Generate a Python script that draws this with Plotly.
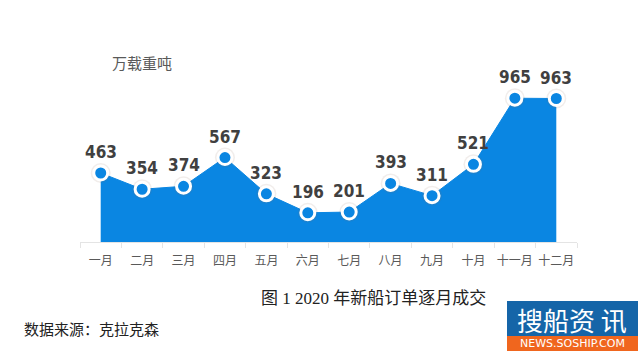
import plotly.graph_objects as go

months = ["一月", "二月", "三月", "四月", "五月", "六月", "七月", "八月", "九月", "十月", "十一月", "十二月"]
orders = [463, 354, 374, 567, 323, 196, 201, 393, 311, 521, 965, 963]
unit_label = "万载重吨"
caption = "图 1 2020 年新船订单逐月成交"
source = "数据来源：克拉克森"

W, H = 640, 354
L, R, T, B = 80, 63, 93, 112
pw, ph = W - L - R, H - T - B

def px(x):
    return (x - L) / pw

def py(y):
    return (H - B - y) / ph

BLUE = "#0A86E2"
CJK = "Noto Sans CJK SC, Noto Sans, sans-serif"

fig = go.Figure()
fig.add_trace(go.Scatter(x=months, y=orders, mode="lines", fill="tozeroy",
                         line=dict(color=BLUE, width=1), fillcolor=BLUE,
                         hoverinfo="skip", showlegend=False))
# faint shadow halo
fig.add_trace(go.Scatter(x=months, y=orders, mode="markers",
                         marker=dict(size=20, color="rgba(140,110,90,0.12)", line=dict(width=0)),
                         hoverinfo="skip", showlegend=False, cliponaxis=False))
fig.add_trace(go.Scatter(x=months, y=orders, mode="markers",
                         marker=dict(size=14, color=BLUE, line=dict(color="white", width=3)),
                         showlegend=False, cliponaxis=False))

for m, v in zip(months, orders):
    fig.add_annotation(x=m, y=v, text=str(v), showarrow=False, yanchor="bottom", yshift=9,
                       font=dict(family="DejaVu Sans Condensed, Liberation Sans Narrow, sans-serif",
                                 size=17, color="#404040", weight="bold"))

fig.add_annotation(xref="paper", yref="paper", x=px(110), y=py(62), xanchor="left", yanchor="middle",
                   text=unit_label, showarrow=False, font=dict(family=CJK, size=15, color="#595959"))
fig.add_annotation(xref="paper", yref="paper", x=px(373), y=py(298), xanchor="center", yanchor="middle",
                   text=caption, showarrow=False,
                   font=dict(family="Liberation Serif, Noto Sans CJK SC, serif", size=17, color="#222222"))
fig.add_annotation(xref="paper", yref="paper", x=px(22), y=py(330), xanchor="left", yanchor="middle",
                   text=source, showarrow=False,
                   font=dict(family="Liberation Serif, Noto Sans CJK SC, serif", size=15, color="#222222"))

# logo
fig.add_shape(type="rect", xref="paper", yref="paper", x0=px(507), x1=px(638), y0=py(336), y1=py(301),
              fillcolor="#1565A8", line=dict(width=0), layer="above")
fig.add_shape(type="rect", xref="paper", yref="paper", x0=px(507), x1=px(638), y0=py(351), y1=py(336),
              fillcolor="#F0661E", line=dict(width=0), layer="above")
fig.add_annotation(xref="paper", yref="paper", x=px(572), y=py(319), xanchor="center", yanchor="middle",
                   text="搜船资 讯", showarrow=False, font=dict(family=CJK, size=26, color="white"))
fig.add_annotation(xref="paper", yref="paper", x=px(572), y=py(343.5), xanchor="center", yanchor="middle",
                   text="NEWS.SOSHIP.COM", showarrow=False,
                   font=dict(family="DejaVu Sans, sans-serif", size=11, color="white"))

fig.update_layout(
    width=W, height=H, margin=dict(l=L, r=R, t=T, b=B),
    paper_bgcolor="white", plot_bgcolor="white",
    xaxis=dict(type="category", range=[-0.5, 11.5], showgrid=False, showline=True,
               linecolor="#e4e4e4", linewidth=1, ticks="outside", tickson="boundaries",
               ticklen=5, tickcolor="#e4e4e4", zeroline=False, tickangle=0,
               ticklabelstandoff=8,
               tickfont=dict(family=CJK, size=12, color="#595959")),
    yaxis=dict(range=[0, 1000], visible=False, fixedrange=True),
)
fig.write_html("out.html")
